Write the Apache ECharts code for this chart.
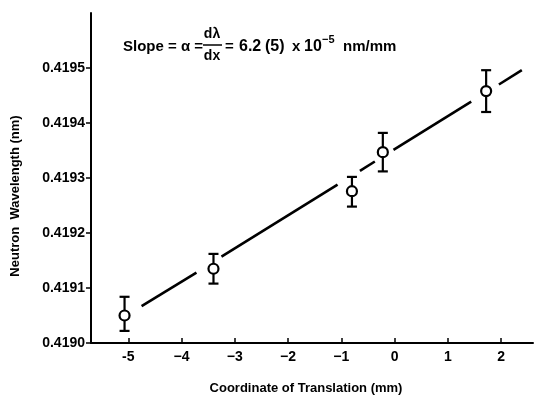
<!DOCTYPE html>
<html>
<head>
<meta charset="utf-8">
<script src="https://cdn.jsdelivr.net/npm/echarts@6/dist/echarts.min.js"></script>
<style>html,body{margin:0;padding:0;background:#fff;}#c{width:534px;height:396px;}</style>
</head>
<body>
<div id="c"></div>
<script>
// Measured points: translation coordinate (mm), wavelength (nm), error (nm)
var xCoord = [-5.07, -3.40, -0.80, -0.22, 1.72];
var wavelength = [0.41905, 0.419135, 0.419276, 0.419347, 0.419458];
var errUp = [0.000034, 0.000027, 0.000026, 0.000035, 0.000038];
var errDown = [0.000028, 0.000027, 0.000028, 0.000035, 0.000038];
// Fitted line, drawn in segments with gaps around the points
var fitSegX = [[-4.75, -3.72], [-3.25, -1.07], [-0.65, -0.37], [-0.02, 1.44], [1.96, 2.39]];
var fitSegY = [[0.419067, 0.419128], [0.419157, 0.419288], [0.419313, 0.419330], [0.419351, 0.419439], [0.419470, 0.419496]];
// Axis ticks
var xTicks = [-5, -4, -3, -2, -1, 0, 1, 2];
var xTickLabels = ['-5', '\u22124', '\u22123', '\u22122', '\u22121', '0', '1', '2'];
var yTicks = [0.4190, 0.4191, 0.4192, 0.4193, 0.4194, 0.4195];

var FONT = 'Liberation Sans';
var chart = echarts.init(document.getElementById('c'), null, {renderer: 'canvas'});

var series = [];
fitSegX.forEach(function (sx, i) {
  series.push({
    type: 'line', silent: true, symbol: 'none', z: 2,
    lineStyle: {color: '#000', width: 2.6},
    data: [[sx[0], fitSegY[i][0]], [sx[1], fitSegY[i][1]]]
  });
});
series.push({
  type: 'custom', z: 3, silent: true,
  renderItem: function (params, api) {
    var x = api.value(0), y = api.value(1), eu = api.value(2), ed = api.value(3);
    var top = api.coord([x, y + eu]);
    var bot = api.coord([x, y - ed]);
    var hw = 5;
    var st = {stroke: '#000', lineWidth: 2.2};
    return {type: 'group', children: [
      {type: 'line', shape: {x1: top[0], y1: top[1], x2: bot[0], y2: bot[1]}, style: st},
      {type: 'line', shape: {x1: top[0] - hw, y1: top[1], x2: top[0] + hw, y2: top[1]}, style: st},
      {type: 'line', shape: {x1: bot[0] - hw, y1: bot[1], x2: bot[0] + hw, y2: bot[1]}, style: st}
    ]};
  },
  data: xCoord.map(function (x, i) { return [x, wavelength[i], errUp[i], errDown[i]]; })
});
series.push({
  type: 'scatter', z: 4, silent: true,
  symbol: 'circle', symbolSize: 10,
  itemStyle: {color: '#fff', borderColor: '#000', borderWidth: 2.2, opacity: 1},
  data: xCoord.map(function (x, i) { return [x, wavelength[i]]; })
});

var tStyle = {fontFamily: FONT, fontWeight: 'bold', fill: '#000'};
function txt(x, y, s, size, extra) {
  var st = Object.assign({}, tStyle, {text: s, fontSize: size, textVerticalAlign: 'middle'}, extra || {});
  return {type: 'text', x: x, y: y, style: st, z: 10};
}

chart.setOption({
  animation: false,
  backgroundColor: '#fff',
  grid: {left: 91, right: 1, top: 13, bottom: 53, containLabel: false},
  xAxis: {
    type: 'value', min: -5.7, max: 2.6,
    axisLine: {show: true, onZero: false, lineStyle: {color: '#000', width: 2}},
    axisTick: {show: true, inside: true, length: 5, lineStyle: {color: '#000', width: 1.5}, customValues: xTicks},
    axisLabel: {
      customValues: xTicks, margin: 7, color: '#000', fontFamily: FONT, fontWeight: 'bold', fontSize: 14,
      formatter: function (v) { var i = xTicks.indexOf(Math.round(v)); return i >= 0 ? xTickLabels[i] : ''; }
    },
    splitLine: {show: false}
  },
  yAxis: {
    type: 'value', min: 0.4190, max: 0.4196,
    axisLine: {show: true, onZero: false, lineStyle: {color: '#000', width: 2}},
    axisTick: {show: true, inside: false, length: 5, lineStyle: {color: '#000', width: 1.5}, customValues: yTicks},
    axisLabel: {
      customValues: yTicks, margin: 6, color: '#000', fontFamily: FONT, fontWeight: 'bold', fontSize: 14,
      formatter: function (v) { return v.toFixed(4); }
    },
    splitLine: {show: false}
  },
  graphic: [
    txt(123, 47, 'Slope = \u03b1 =', 15),
    txt(212, 34, 'd\u03bb', 14, {textAlign: 'center'}),
    {type: 'line', shape: {x1: 203, y1: 45, x2: 222, y2: 45}, style: {stroke: '#000', lineWidth: 1.5}, z: 10},
    txt(212, 56, 'dx', 14, {textAlign: 'center'}),
    txt(225, 47, '=', 15),
    txt(239, 47, '6.2', 16),
    txt(265, 47, '(5)', 16),
    txt(292, 47, 'x', 15),
    txt(304, 47, '10', 16),
    txt(322, 40, '\u22125', 11),
    txt(343, 47, 'nm/mm', 15),
    txt(306, 388, 'Coordinate of Translation (mm)', 13, {textAlign: 'center'}),
    {type: 'text', x: 15, y: 196, rotation: Math.PI / 2, z: 10,
     style: Object.assign({}, tStyle, {text: 'Neutron  Wavelength (nm)', fontSize: 13, textAlign: 'center', textVerticalAlign: 'middle'})}
  ],
  series: series
});
</script>
</body>
</html>
